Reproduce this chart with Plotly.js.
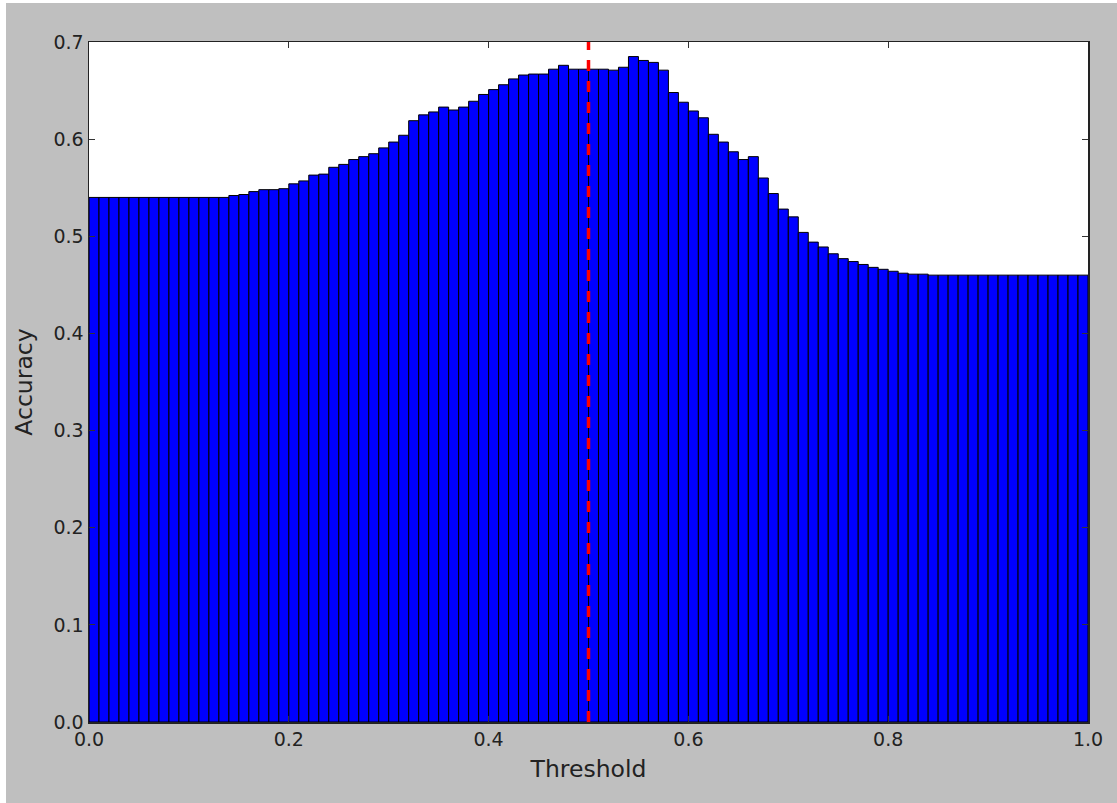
<!DOCTYPE html>
<html>
<head>
<meta charset="utf-8">
<script src="https://cdn.plot.ly/plotly-3.0.1.min.js"></script>
<style>
  html, body { margin: 0; padding: 0; background: #ffffff; }
  #chart { position: absolute; left: 6px; top: 3px; width: 1111px; height: 800px; }
</style>
</head>
<body>
<div id="chart"></div>
<script>
const thresholds = [
  0.00,0.01,0.02,0.03,0.04,0.05,0.06,0.07,0.08,0.09,
  0.10,0.11,0.12,0.13,0.14,0.15,0.16,0.17,0.18,0.19,
  0.20,0.21,0.22,0.23,0.24,0.25,0.26,0.27,0.28,0.29,
  0.30,0.31,0.32,0.33,0.34,0.35,0.36,0.37,0.38,0.39,
  0.40,0.41,0.42,0.43,0.44,0.45,0.46,0.47,0.48,0.49,
  0.50,0.51,0.52,0.53,0.54,0.55,0.56,0.57,0.58,0.59,
  0.60,0.61,0.62,0.63,0.64,0.65,0.66,0.67,0.68,0.69,
  0.70,0.71,0.72,0.73,0.74,0.75,0.76,0.77,0.78,0.79,
  0.80,0.81,0.82,0.83,0.84,0.85,0.86,0.87,0.88,0.89,
  0.90,0.91,0.92,0.93,0.94,0.95,0.96,0.97,0.98,0.99
];
const accuracy = [
  0.540,0.540,0.540,0.540,0.540,0.540,0.540,0.540,0.540,0.540,
  0.540,0.540,0.540,0.540,0.542,0.543,0.546,0.548,0.548,0.549,
  0.554,0.557,0.563,0.564,0.571,0.574,0.579,0.582,0.585,0.591,
  0.597,0.604,0.619,0.625,0.628,0.633,0.630,0.633,0.639,0.646,
  0.651,0.656,0.662,0.666,0.667,0.667,0.672,0.676,0.672,0.672,
  0.672,0.672,0.671,0.674,0.685,0.681,0.679,0.671,0.648,0.638,
  0.629,0.622,0.605,0.597,0.587,0.579,0.582,0.560,0.544,0.528,
  0.520,0.504,0.494,0.489,0.482,0.477,0.474,0.471,0.468,0.466,
  0.464,0.462,0.461,0.461,0.460,0.460,0.460,0.460,0.460,0.460,
  0.460,0.460,0.460,0.460,0.460,0.460,0.460,0.460,0.460,0.460
];
const xTicks = [0.0, 0.2, 0.4, 0.6, 0.8, 1.0];
const yTicks = [0.0, 0.1, 0.2, 0.3, 0.4, 0.5, 0.6, 0.7];
const chosenThreshold = 0.5;
const xLabel = "Threshold";
const yLabel = "Accuracy";

const fontFamily = "DejaVu Sans, Liberation Sans, sans-serif";
const textColor = "#222222";

const bars = {
  type: "bar",
  x: thresholds,
  y: accuracy,
  width: 0.01,
  offset: 0,
  marker: { color: "#0000ff", line: { color: "#000000", width: 1 } },
  hoverinfo: "x+y",
  showlegend: false
};

const layout = {
  width: 1111,
  height: 800,
  paper_bgcolor: "#bfbfbf",
  plot_bgcolor: "#ffffff",
  margin: { l: 83, r: 29, t: 39, b: 81, pad: 0 },
  bargap: 0,
  font: { family: fontFamily, color: textColor, size: 19 },
  xaxis: {
    range: [0, 1],
    tickvals: xTicks,
    tickformat: ".1f",
    ticks: "inside",
    ticklen: 6,
    tickwidth: 1,
    tickcolor: "#333333",
    showline: true,
    linecolor: "#222222",
    linewidth: 1.5,
    mirror: "allticks",
    showgrid: false,
    zeroline: false,
    tickfont: { size: 19, color: textColor },
    title: { text: xLabel, font: { size: 23.5, color: textColor }, standoff: 11 },
    automargin: false
  },
  yaxis: {
    range: [0, 0.7],
    tickvals: yTicks,
    tickformat: ".1f",
    ticks: "inside",
    ticklen: 6,
    tickwidth: 1,
    tickcolor: "#333333",
    showline: true,
    linecolor: "#222222",
    linewidth: 1.5,
    mirror: "allticks",
    showgrid: false,
    zeroline: false,
    tickfont: { size: 19, color: textColor },
    title: { text: yLabel, font: { size: 23.5, color: textColor }, standoff: 14 },
    automargin: false
  },
  shapes: [{
    type: "line",
    xref: "x", yref: "paper",
    x0: chosenThreshold, x1: chosenThreshold,
    y0: 0, y1: 1,
    line: { color: "#ff0000", width: 3.5, dash: "11px,10px" }
  }]
};

Plotly.newPlot("chart", [bars], layout, { displayModeBar: false, staticPlot: true });
</script>
</body>
</html>
